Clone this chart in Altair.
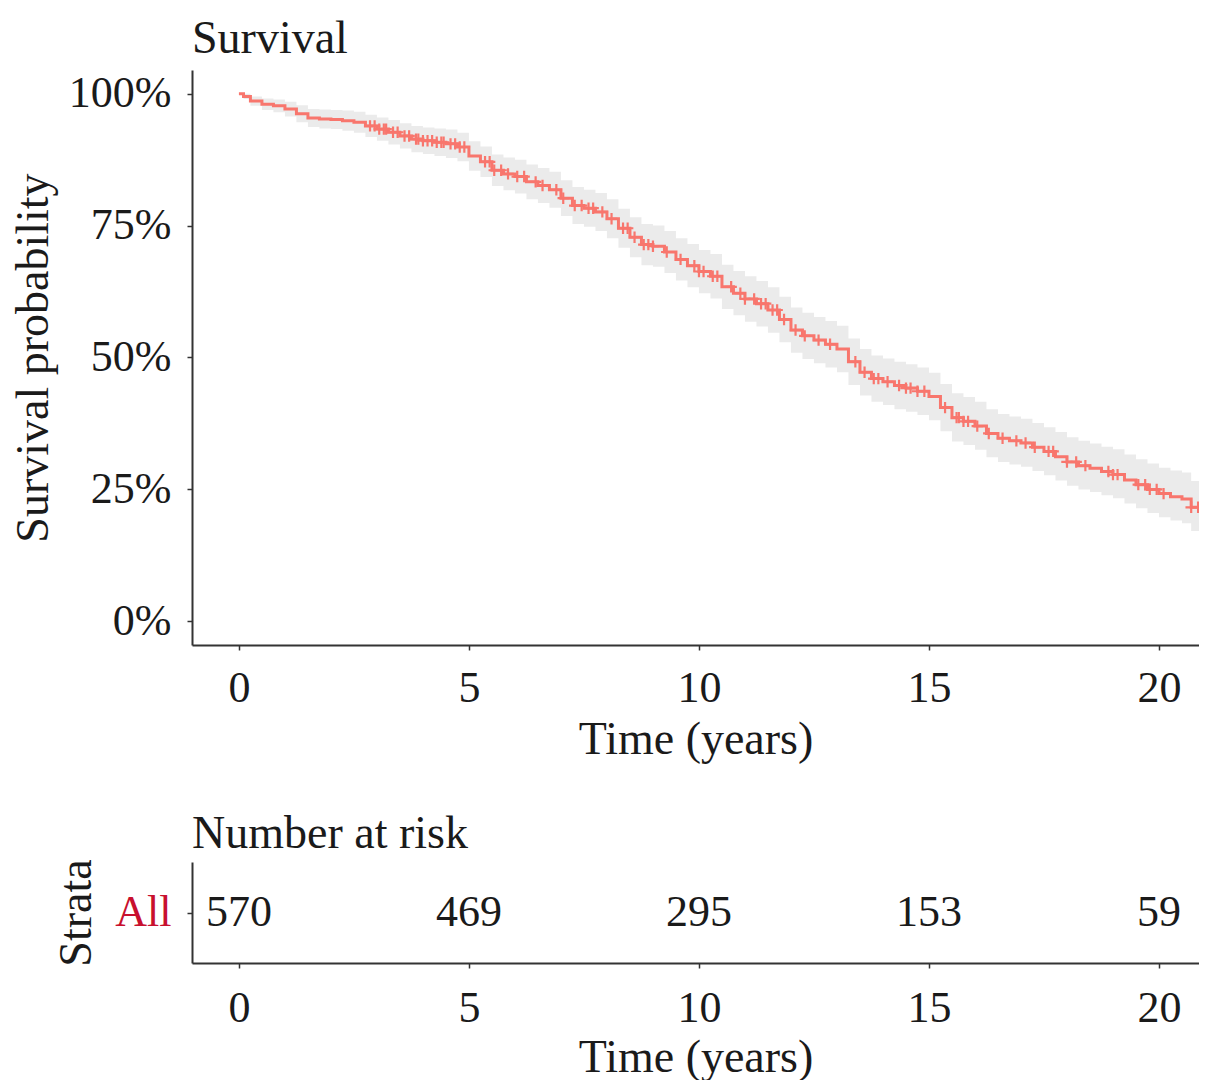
import altair as alt
import pandas as pd
import numpy as np

FONT = "Liberation Serif"

# Kaplan-Meier estimate (years, %)
km_time = [0.00, 0.10, 0.25, 0.50, 0.75, 1.00, 1.25, 1.50, 1.75, 2.00, 2.25, 2.50, 2.75,
           3.00, 3.25, 3.50, 3.75, 4.00, 4.25, 4.50, 4.75, 5.00, 5.25, 5.50, 5.75, 6.00,
           6.25, 6.50, 6.75, 7.00, 7.25, 7.50, 7.75, 8.00, 8.25, 8.50, 8.75, 9.00, 9.25,
           9.50, 9.75, 10.00, 10.25, 10.50, 10.75, 11.00, 11.25, 11.50, 11.75, 12.00,
           12.25, 12.50, 12.75, 13.00, 13.25, 13.50, 13.75, 14.00, 14.25, 14.50, 14.75,
           15.00, 15.25, 15.50, 15.75, 16.00, 16.25, 16.50, 16.75, 17.00, 17.25, 17.50,
           17.75, 18.00, 18.25, 18.50, 18.75, 19.00, 19.25, 19.50, 19.75, 20.00, 20.25,
           20.50, 20.70, 20.98]
km_surv = [100.0, 99.5, 98.6, 98.0, 97.7, 97.1, 96.2, 95.4, 95.2, 95.1, 94.9, 94.6, 93.9,
           93.3, 92.7, 92.0, 91.4, 91.1, 90.8, 90.5, 89.9, 88.2, 87.1, 85.5, 84.8, 84.3,
           83.3, 82.6, 81.8, 80.2, 78.8, 78.3, 77.6, 76.3, 74.5, 72.8, 71.4, 71.1, 70.0,
           68.6, 67.4, 66.3, 65.4, 63.4, 62.2, 61.1, 60.2, 59.0, 57.2, 55.2,
           54.1, 53.3, 52.5, 51.6, 49.2, 47.2, 46.0, 45.4, 44.7, 44.2, 43.6,
           42.6, 40.5, 38.6, 37.9, 37.0, 35.6, 34.7, 34.2, 33.8, 33.0, 32.2,
           31.2, 30.2, 29.5, 29.0, 28.4, 27.8, 26.8, 25.9, 25.0, 24.2, 23.6,
           23.2, 21.6, 20.9]
km_lower = [100.0, 99.0, 97.7, 96.9, 96.5, 95.7, 94.6, 93.7, 93.4, 93.3, 93.0, 92.6, 91.8,
            91.1, 90.4, 89.6, 88.9, 88.6, 88.2, 87.8, 87.2, 85.4, 84.2, 82.5, 81.7, 81.1,
            80.0, 79.3, 78.4, 76.8, 75.3, 74.8, 74.0, 72.6, 70.8, 69.0, 67.5, 67.2, 66.0,
            64.6, 63.3, 62.2, 61.2, 59.2, 58.0, 56.8, 55.9, 54.7, 52.9, 50.9,
            49.7, 48.9, 48.1, 47.2, 44.8, 42.8, 41.6, 41.0, 40.2, 39.7, 39.1,
            38.1, 36.0, 34.1, 33.4, 32.5, 31.1, 30.2, 29.7, 29.3, 28.5, 27.7,
            26.7, 25.7, 25.0, 24.5, 23.9, 23.3, 22.3, 21.4, 20.5, 19.7, 19.1,
            18.6, 17.1, 16.4]
km_upper = [100.0, 100.0, 99.5, 99.1, 98.9, 98.5, 97.8, 97.1, 97.0, 96.9, 96.8, 96.6, 96.0,
            95.5, 95.0, 94.4, 93.9, 93.6, 93.4, 93.2, 92.6, 91.0, 90.0, 88.5, 87.9, 87.5,
            86.6, 85.9, 85.2, 83.6, 82.3, 81.8, 81.2, 80.0, 78.2, 76.6, 75.3, 75.0, 74.0,
            72.6, 71.5, 70.4, 69.6, 67.6, 66.4, 65.4, 64.5, 63.3, 61.5, 59.5,
            58.5, 57.7, 56.9, 56.0, 53.6, 51.6, 50.4, 49.8, 49.2, 48.7, 48.1,
            47.1, 45.0, 43.2, 42.5, 41.6, 40.2, 39.3, 38.8, 38.4, 37.6, 36.8,
            35.9, 34.9, 34.2, 33.7, 33.1, 32.6, 31.6, 30.7, 29.9, 29.1, 28.6,
            28.2, 26.6, 25.9]

# censoring times (years)
censor_time = [2.85, 2.95, 3.05, 3.15, 3.2, 3.35, 3.45, 3.6, 3.7, 3.85, 3.9, 4.0, 4.1, 4.2,
               4.3, 4.4, 4.45, 4.6, 4.7, 4.8, 4.9, 5.35, 5.45, 5.55, 5.7, 5.85, 6.05, 6.2,
               6.45, 6.6, 6.9, 7.05, 7.3, 7.45, 7.6, 7.7, 7.9, 8.1, 8.35, 8.45, 8.6, 8.8,
               8.9, 9.0, 9.3, 9.6, 9.9, 10.0, 10.1, 10.3, 10.4, 10.7, 10.9, 11.0, 11.2,
               11.35, 11.45, 11.6, 11.7, 11.85, 12.1, 12.3, 12.6, 12.85, 13.4, 13.6, 13.8,
               13.9, 14.1, 14.35, 14.5, 14.6, 14.75, 14.9, 15.35, 15.6, 15.65, 15.75, 15.85,
               16.05, 16.3, 16.6, 16.9, 17.1, 17.3, 17.6, 17.7, 18.0, 18.2, 18.4, 18.9,
               19.0, 19.1, 19.55, 19.7, 19.8, 19.95, 20.1, 20.7, 20.85]

# number at risk
risk_time = [0, 5, 10, 15, 20]
risk_n = [570, 469, 295, 153, 59]
strata = ["All"]

LINE_COLOR = "#F8766D"
BAND_COLOR = "#EBEBEB"
AXIS_COLOR = "#333333"
TEXT_COLOR = "#1A1A1A"

km = pd.DataFrame({
    "time": km_time,
    "surv": np.array(km_surv) / 100,
    "lower": np.array(km_lower) / 100,
    "upper": np.array(km_upper) / 100,
})
idx = np.searchsorted(np.array(km_time), np.array(censor_time), side="right") - 1
cens = pd.DataFrame({"time": censor_time, "surv": np.array(km_surv)[idx] / 100})
risk = pd.DataFrame({"time": risk_time, "n": risk_n, "strata": strata * len(risk_time)})

PLOT_W = 1007
x_scale = alt.Scale(domain=[-1.02, 20.87], nice=False, zero=False)
x_axis = alt.Axis(values=[0, 5, 10, 15, 20], format="d", title="Time (years)")

base = alt.Chart(km)
band = base.mark_area(color=BAND_COLOR, interpolate="step-after", clip=True).encode(
    x=alt.X("time:Q", scale=x_scale, axis=x_axis),
    y=alt.Y("lower:Q"),
    y2="upper:Q",
)
line = base.mark_line(color=LINE_COLOR, strokeWidth=3, interpolate="step-after",
                      clip=True).encode(
    x=alt.X("time:Q", scale=x_scale, axis=x_axis),
    y=alt.Y("surv:Q",
            scale=alt.Scale(domain=[-0.045, 1.045], nice=False, zero=False),
            axis=alt.Axis(values=[0, 0.25, 0.5, 0.75, 1.0], format=".0%",
                          title="Survival probability", titlePadding=11)),
)
marks = alt.Chart(cens).mark_point(
    shape="M-1,0L1,0M0,-1L0,1", size=130, filled=False, color=LINE_COLOR, strokeWidth=2.2,
    opacity=1, clip=True,
).encode(
    x=alt.X("time:Q", scale=x_scale),
    y=alt.Y("surv:Q"),
)

top = alt.layer(band, line, marks).properties(
    width=PLOT_W, height=575,
    title=alt.TitleParams("Survival", anchor="start", frame="group", fontSize=46, font=FONT,
                          fontWeight="normal", color=TEXT_COLOR, offset=7),
)

bottom = alt.Chart(risk).mark_text(fontSize=44, font=FONT, color=TEXT_COLOR).encode(
    x=alt.X("time:Q", scale=x_scale,
            axis=alt.Axis(values=[0, 5, 10, 15, 20], format="d", title="Time (years)",
                          titlePadding=5, labelPadding=18)),
    y=alt.Y("strata:N", title="Strata",
            axis=alt.Axis(labelColor="#C8102E", labelFontSize=44, titlePadding=14)),
    text="n:Q",
).properties(
    width=PLOT_W, height=101,
    title=alt.TitleParams("Number at risk", anchor="start", frame="group", fontSize=46,
                          font=FONT, fontWeight="normal", color=TEXT_COLOR, offset=1),
)

chart = alt.vconcat(top, bottom, spacing=48).properties(
    padding={"left": 2, "top": 8, "right": 0, "bottom": 0}
).configure(
    font=FONT,
    background="white",
).configure_view(
    stroke=None,
).configure_axis(
    grid=False,
    domainColor=AXIS_COLOR,
    domainWidth=2,
    tickColor=AXIS_COLOR,
    tickWidth=1.5,
    tickSize=5,
    labelFont=FONT,
    labelFontSize=44,
    labelColor=TEXT_COLOR,
    labelPadding=16,
    titleFont=FONT,
    titleFontSize=46,
    titleFontWeight="normal",
    titleColor=TEXT_COLOR,
    titlePadding=7,
)

chart.save("out.html", embed_options={"renderer": "svg", "actions": False})
